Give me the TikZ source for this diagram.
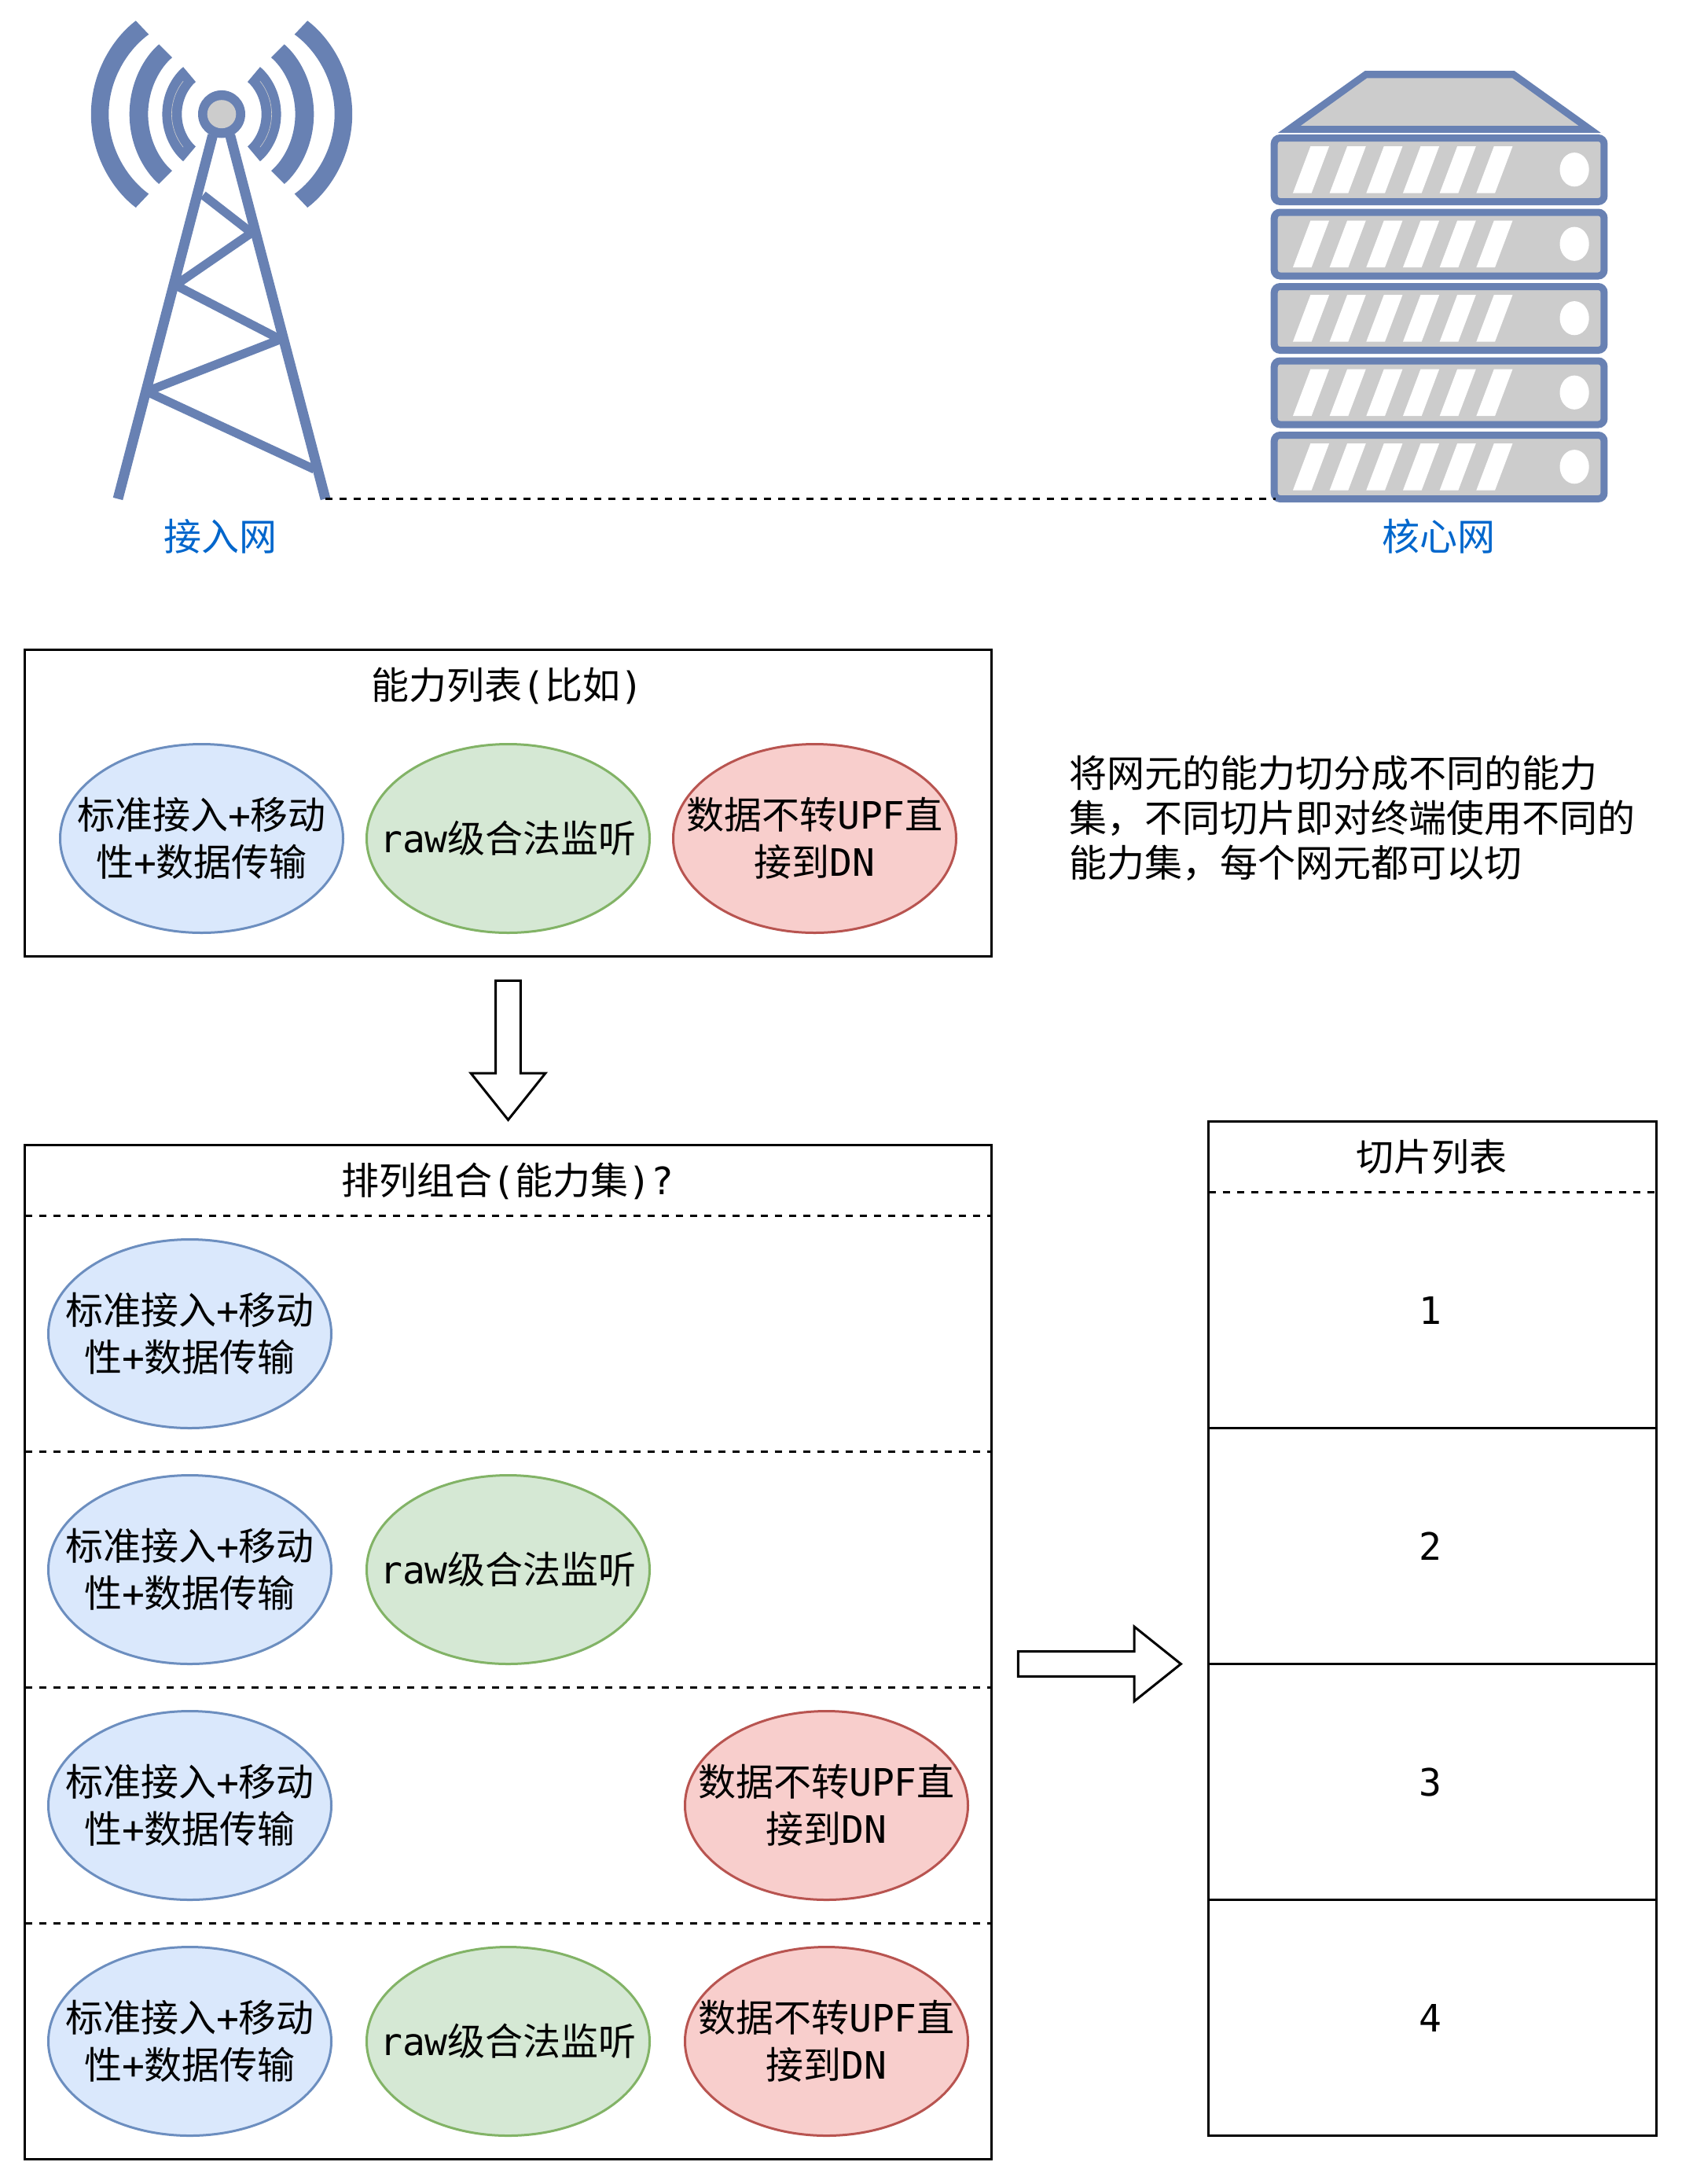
\documentclass[tikz,border=0pt]{standalone}
\usepackage{fontspec}
\setmainfont{Noto Sans CJK SC}
\newfontfamily\latmono{DejaVu Sans Mono}
\usetikzlibrary{shapes.geometric, shapes.arrows, positioning}
\definecolor{towerblue}{HTML}{6881B3}
\definecolor{iconfill}{HTML}{CCCCCC}
\definecolor{linkblue}{HTML}{0066CC}
\definecolor{bluefill}{HTML}{DAE8FC}
\definecolor{bluedraw}{HTML}{6C8EBF}
\definecolor{greenfill}{HTML}{D5E8D4}
\definecolor{greendraw}{HTML}{82B366}
\definecolor{redfill}{HTML}{F8CECC}
\definecolor{reddraw}{HTML}{B85450}
\newcommand{\lat}[1]{{\latmono #1}}
\newcommand{\captext}[1]{\hbox to 0pt{\hss\raisebox{-6.2pt}[0pt][0pt]{\begin{tabular}{@{}c@{}}#1\end{tabular}}\hss}}
\newcommand{\antwave}[6]{
    \fill[towerblue] (#1,-#2)
        .. controls ({#3+0.5*(#1-(#3))},{-0.82*#2}) and (#3,{-0.45*#2}) .. (#3,0)
        .. controls (#3,{0.45*#2}) and ({#3+0.5*(#1-(#3))},{0.82*#2}) .. (#1,#2)
        -- (#4,#5)
        .. controls ({#6+0.5*(#4-(#6))},{0.82*#5}) and (#6,{0.45*#5}) .. (#6,0)
        .. controls (#6,{-0.45*#5}) and ({#6+0.5*(#4-(#6))},{-0.82*#5}) .. (#4,-#5)
        -- cycle;
}
\tikzset{
  capell/.style={ellipse, draw, line width=1pt, minimum width=120pt, minimum height=80pt,
                 inner sep=0pt, outer sep=0pt},
  bluecap/.style={capell, draw=bluedraw, fill=bluefill},
  greencap/.style={capell, draw=greendraw, fill=greenfill},
  redcap/.style={capell, draw=reddraw, fill=redfill},
  listbox/.style={rectangle, draw=black, line width=1pt, inner sep=0pt, outer sep=0pt},
  plaintext/.style={inner sep=0pt, outer sep=0pt, align=center},
  iconlabel/.style={plaintext, text=linkblue},
  blockarrow/.style={single arrow, draw=black, line width=1pt, fill=white, inner sep=4.8pt,
                     outer sep=0pt, single arrow head extend=10.5pt, single arrow tip angle=77.3},
  rowline/.style={dashed, dash pattern=on 3pt off 3pt, line width=1pt},
  towerbar/.style={towerblue, line width=3.7pt, line join=round},
}

\begin{document}
\begin{tikzpicture}[x=1pt, y=-1pt, font=\fontsize{16}{20}\selectfont]
    \useasboundingbox (0,0) rectangle (713,926);

    % tower
    \draw[towerblue, line width=4.3pt] (50,211.5) -- (90.2,57.4);
    \draw[towerblue, line width=4.3pt] (138,211.5) -- (97.6,57.4);
    \draw[towerbar] (86.1,82.7) -- (106.7,98.7) -- (74.4,120.9) -- (118.9,143.9)
        -- (62.2,166) -- (133.3,199);
    \foreach \side in {1,-1} {
        \begin{scope}[shift={(94,48.4)}, xscale=\side]
            \antwave{-36.4}{39.6}{-55.4}{-30.9}{33.8}{-47.9}
            \antwave{-26.6}{29.6}{-39.1}{-21}{24}{-31.2}
            \antwave{-16.3}{20}{-25.2}{-11}{13.7}{-16.9}
            \draw[iconfill, line width=0.2pt] (-16.3,-14) .. controls (-19.5,-10) and (-21.2,-5) .. (-21.2,0)
                .. controls (-21.2,5) and (-19.5,10) .. (-16.3,14);
        \end{scope}
    }
    \fill[towerblue] (94,48.4) ellipse (10 and 10.1);
    \fill[iconfill] (94,48.4) ellipse (6.1 and 6);
    \coordinate (towerfoot) at (137.9,211.5);
    \node[iconlabel] (accessnet) at (93.5,227.4) {接入网};

    % server
    \fill[towerblue] (542,56.3) -- (578.9,30) -- (642.2,30) -- (678.9,56.3) -- cycle;
    \fill[iconfill] (551.7,53.3) -- (579.8,33.1) -- (641.3,33.1) -- (669.4,53.3) -- cycle;
    \foreach \unit in {0,...,4} {
        \begin{scope}[shift={(0,31.5*\unit)}]
            \draw[towerblue, fill=iconfill, line width=3pt, rounded corners=2.5pt]
                (540.4,58.5) rectangle (680.3,85.5);
            \foreach \slot in {0,...,5} {
                \fill[white, xshift=15.56*\slot] (555.8,62) -- (563.7,62) -- (556.2,81.9) -- (548.3,81.9) -- cycle;
            }
            \fill[white] (667.7,71.9) ellipse (6.2 and 7.2);
        \end{scope}
    }
    \coordinate (serverfoot) at (541,211.5);
    \node[iconlabel] (corenet) at (610,227.4) {核心网};

    \draw[rowline] (towerfoot) -- (serverfoot);

    % capability list
    \node[listbox, minimum width=410pt, minimum height=130pt] (caplist) at (215.5,340.5) {};
    \node[plaintext] (captitle) at (215.2,290.8) {能力列表\lat{(}比如\lat{)}};
    \node[bluecap] (capa) at (85.5,355.5) {\captext{标准接入\lat{+}移动\\性\lat{+}数据传输}};
    \node[greencap, right=10pt of capa] (capb) {\captext{\lat{raw}级合法监听}};
    \node[redcap, right=10pt of capb] (capc) {\captext{数据不转\lat{UPF}直\\接到\lat{DN}}};

    \node[plaintext, anchor=west, align=left, font=\fontsize{16}{19}\selectfont] (note) at (453.6,346.8)
        {将网元的能力切分成不同的能力\\集，不同切片即对终端使用不同的\\能力集，每个网元都可以切};

    \node[blockarrow, rotate=-90, minimum height=59pt, anchor=tail] (downarrow) at (215.5,415.8) {};

    % combinations
    \node[listbox, minimum width=410pt, minimum height=430pt] (comblist) at (215.5,700.5) {};
    \node[plaintext] (combtitle) at (215.2,500.8) {排列组合\lat{(}能力集\lat{)?}};
    \foreach \rowy in {515.5,615.5,715.5,815.5} {
        \draw[rowline] (10.5,\rowy) -- (420.5,\rowy);
    }
    \node[bluecap] (rowa) at (80.5,565.5) {\captext{标准接入\lat{+}移动\\性\lat{+}数据传输}};
    \node[bluecap, below=20pt of rowa] (rowb) {\captext{标准接入\lat{+}移动\\性\lat{+}数据传输}};
    \node[greencap, right=15pt of rowb] (rowbg) {\captext{\lat{raw}级合法监听}};
    \node[bluecap, below=20pt of rowb] (rowc) {\captext{标准接入\lat{+}移动\\性\lat{+}数据传输}};
    \node[redcap] (rowcr) at (350.5,765.5) {\captext{数据不转\lat{UPF}直\\接到\lat{DN}}};
    \node[bluecap, below=20pt of rowc] (rowd) {\captext{标准接入\lat{+}移动\\性\lat{+}数据传输}};
    \node[greencap, right=15pt of rowd] (rowdg) {\captext{\lat{raw}级合法监听}};
    \node[redcap, right=15pt of rowdg] (rowdr) {\captext{数据不转\lat{UPF}直\\接到\lat{DN}}};

    \node[blockarrow, minimum height=69pt, anchor=tail] (rightarrow) at (431.8,705.5) {};

    % slice list
    \node[listbox, minimum width=190pt, minimum height=430pt] (slicelist) at (607.5,690.5) {};
    \node[plaintext] (slicetitle) at (607.3,490.5) {切片列表};
    \draw[rowline] (512.5,505.5) -- (702.5,505.5);
    \foreach \liney in {605.5,705.5,805.5} {
        \draw[line width=1pt] (512.5,\liney) -- (702.5,\liney);
    }
    \node[plaintext] (sliceone) at (606.8,555.5) {\lat{1}};
    \node[plaintext] (slicetwo) at (606.8,655.5) {\lat{2}};
    \node[plaintext] (slicethree) at (606.8,755.5) {\lat{3}};
    \node[plaintext] (slicefour) at (606.8,855.5) {\lat{4}};
\end{tikzpicture}
\end{document}
